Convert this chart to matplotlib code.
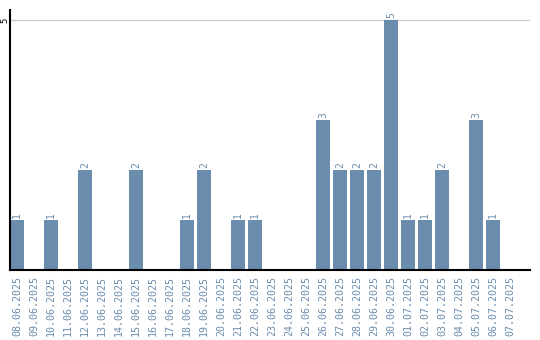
import numpy as np
import matplotlib.pyplot as plt

dates = ["08.06.2025", "09.06.2025", "10.06.2025", "11.06.2025", "12.06.2025",
         "13.06.2025", "14.06.2025", "15.06.2025", "16.06.2025", "17.06.2025",
         "18.06.2025", "19.06.2025", "20.06.2025", "21.06.2025", "22.06.2025",
         "23.06.2025", "24.06.2025", "25.06.2025", "26.06.2025", "27.06.2025",
         "28.06.2025", "29.06.2025", "30.06.2025", "01.07.2025", "02.07.2025",
         "03.07.2025", "04.07.2025", "05.07.2025", "06.07.2025", "07.07.2025"]
counts = [1, 0, 1, 0, 2, 0, 0, 2, 0, 0, 1, 2, 0, 1, 1, 0, 0, 0, 3, 2,
          2, 2, 5, 1, 1, 2, 0, 3, 1, 0]
y_ticks = [5]

bar_color = "#6a8cad"
text_color = "#6a8cad"

fig = plt.figure(figsize=(5.4, 3.4), dpi=100)
ax = fig.add_axes([10 / 540, 70 / 340, 520 / 540, 260 / 340])

x = np.arange(len(dates))
ax.bar(x, counts, width=0.82, color=bar_color, zorder=2)

for i, v in enumerate(counts):
    if v > 0:
        ax.text(i, v + 0.05, str(v), rotation=90, ha="center", va="bottom",
                fontsize=7, family="DejaVu Sans Mono", color=text_color)

ax.set_xlim(-0.41, 30.18)
ax.set_ylim(0, 5.2)

ax.set_yticks(y_ticks)
ax.set_yticklabels([str(t) for t in y_ticks], rotation=90, va="center",
                   fontsize=6.5, family="DejaVu Sans Mono")
ax.tick_params(axis="y", length=0, pad=0.5)
ax.grid(axis="y", color="#cccccc", linewidth=1, zorder=0)

ax.set_xticks(x)
ax.set_xticklabels(dates, rotation=90, fontsize=7.2, family="DejaVu Sans Mono",
                   color=text_color)
ax.tick_params(axis="x", length=0, pad=4)

for side in ["top", "right"]:
    ax.spines[side].set_visible(False)
ax.spines["left"].set_linewidth(1.5)
ax.spines["bottom"].set_linewidth(1.5)

fig.savefig("out.png", dpi=100)
